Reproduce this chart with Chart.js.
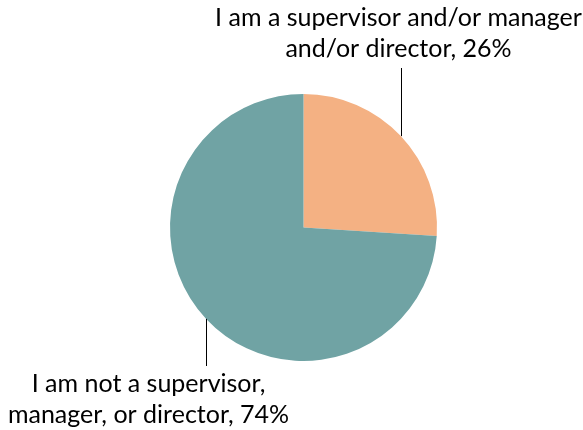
<!DOCTYPE html>
<html>
<head>
<meta charset="utf-8">
<script src="https://cdn.jsdelivr.net/npm/chart.js@4.4.1/dist/chart.umd.min.js"></script>
<style>
  html, body { margin: 0; padding: 0; background: #fff; }
  #wrap { width: 583px; height: 430px; }
</style>
</head>
<body>
<div id="wrap"><canvas id="rolPie" width="583" height="430"></canvas></div>
<script>
// category text, already broken where the label wraps
const categorias = [
  ["I am a supervisor and/or manager", "and/or director"],
  ["I am not a supervisor,", "manager, or director"],
];
const porcentajes = [26, 74];
const colores = ["#F4B183", "#70A3A4"];

// where each label block sits, relative to the point on the rim
const labelPos = [
  { dx: -3, bottom: 68, align: "top" },
  { dx: -58, top: 366, align: "bottom" },
];

const leaderLabels = {
  id: "leaderLabels",
  afterDatasetsDraw(chart) {
    const c = chart.ctx;
    const arcs = chart.getDatasetMeta(0).data;
    c.save();
    c.font = "25px Lato";
    c.fillStyle = "#000";
    c.strokeStyle = "#000";
    c.lineWidth = 1;
    c.textAlign = "center";
    c.textBaseline = "alphabetic";
    const lineH = 31;
    arcs.forEach((arc, i) => {
      const { x, y, startAngle, endAngle, outerRadius } = arc.getProps(
        ["x", "y", "startAngle", "endAngle", "outerRadius"], true);
      const mid = (startAngle + endAngle) / 2;
      const px = Math.round(x + Math.cos(mid) * outerRadius) + 0.5;
      const py = y + Math.sin(mid) * outerRadius;
      const lines = categorias[i].slice();
      lines[lines.length - 1] += ", " + porcentajes[i] + "%";
      const pos = labelPos[i];
      const cx = px + pos.dx;
      c.beginPath();
      if (pos.align === "top") {
        c.moveTo(px, py);
        c.lineTo(px, pos.bottom);
        c.stroke();
        // last baseline sits a little above the line end
        lines.forEach((t, k) => {
          c.fillText(t, cx, pos.bottom - 11 - (lines.length - 1 - k) * lineH);
        });
      } else {
        c.moveTo(px, py);
        c.lineTo(px, pos.top);
        c.stroke();
        lines.forEach((t, k) => {
          c.fillText(t, cx, pos.top + 26 + k * lineH);
        });
      }
    });
    c.restore();
  },
};

new Chart("rolPie", {
  type: "pie",
  data: {
    labels: categorias.map((l) => l.join(" ")),
    datasets: [
      {
        data: porcentajes,
        backgroundColor: colores,
        borderWidth: 0,
      },
    ],
  },
  options: {
    responsive: false,
    animation: false,
    layout: { padding: { top: 94, bottom: 69, left: 170, right: 146 } },
    plugins: {
      legend: { display: false },
      tooltip: { enabled: false },
    },
  },
  plugins: [leaderLabels],
});
</script>
</body>
</html>
